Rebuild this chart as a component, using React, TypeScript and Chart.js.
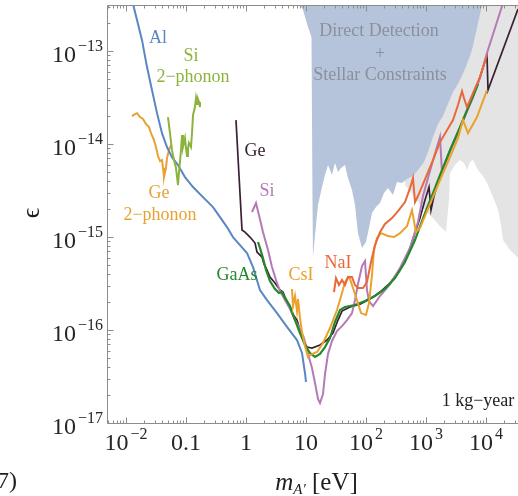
import React, { useEffect, useRef } from 'react';
import { Chart, registerables } from 'chart.js';

Chart.register(...registerables);

// ---- axis ranges ----
const X_MIN = 0.004825;
const X_MAX = 34150;
const Y_MIN = 1e-17;
const Y_MAX = 3.13e-13;

// ---- tick labels ----
const xTickValues = [0.01, 0.1, 1, 10, 100, 1000, 10000];
const xTickLabels = ['10^−2', '0.1', '1', '10', '10^2', '10^3', '10^4'];
const yTickValues = [1e-13, 1e-14, 1e-15, 1e-16, 1e-17];
const yTickLabels = ['10^−13', '10^−14', '10^−15', '10^−16', '10^−17'];

// ---- shaded regions (lower edges, filled up to the top) ----
const ddX = [7.943, 8.913, 10.8, 12.35, 12.59, 12.83, 13.08, 14.68, 15.85, 18.48, 20.73, 23.26, 27.12, 30.43, 34.15, 38.31, 44.67, 50.12, 58.43, 65.56, 73.56, 85.8, 100, 112.2, 125.9, 146.8, 171.1, 199.5, 232.6, 281.8, 328.6, 398.1, 482.3, 607, 735.6, 926, 1080, 1308, 1585, 1920, 2326, 2818, 3415, 3981, 4823, 5843, 7079, 8580];
const ddY = [3.13e-13, 2.76e-13, 1.81e-13, 1.41e-13, 1.81e-14, 2.5e-15, 6.09e-16, 1.35e-15, 2.21e-15, 3.45e-15, 4.64e-15, 5.94e-15, 4.64e-15, 6.25e-15, 5.0e-15, 5.52e-15, 5.94e-15, 4.31e-15, 3.2e-15, 2.21e-15, 1.1e-15, 7.62e-16, 8.84e-16, 1.25e-15, 1.81e-15, 2.1e-15, 2.32e-15, 2.97e-15, 3.36e-15, 2.83e-15, 3.9e-15, 3.81e-15, 4.2e-15, 4.53e-15, 5.26e-15, 6.4e-15, 8.2e-15, 1.19e-14, 1.64e-14, 2.0e-14, 2.69e-14, 3.62e-14, 4.42e-14, 5.39e-14, 7.25e-14, 1.03e-13, 1.77e-13, 3.13e-13];

const grayX = [446.7, 607, 794.3, 1039, 1308, 1711, 2154, 2416, 2512, 3043, 3687, 4299, 4823, 5412, 6070, 7356, 8913, 10391, 13080, 15850, 17780, 19200, 25120, 34150];
const grayY = [3.62e-15, 2.83e-15, 2.21e-15, 1.86e-15, 1.6e-15, 1.31e-15, 1.13e-15, 2.5e-15, 4.88e-15, 5.94e-15, 6.73e-15, 6.25e-15, 5.26e-15, 6.4e-15, 6.73e-15, 5.26e-15, 4.53e-15, 3.81e-15, 2.69e-15, 1.95e-15, 1.35e-15, 9.28e-16, 7.25e-16, 6.0e-16];

// ---- curves ----
const alX = [0.0126, 0.0153, 0.0185, 0.0224, 0.0271, 0.0329, 0.0398, 0.0482, 0.0584, 0.0736, 0.0962, 0.131, 0.192, 0.282, 0.369, 0.482, 0.607, 0.794, 1.04, 1.31, 1.71, 2.24, 3.29, 4.82, 7.08, 8.58, 9.62, 10.0];
const alY = [3.54e-13, 2.15e-13, 1.31e-13, 6.73e-14, 3.81e-14, 2.15e-14, 1.31e-14, 9.3e-15, 7.24e-15, 5.95e-15, 4.41e-15, 3.45e-15, 2.69e-15, 2.1e-15, 1.64e-15, 1.28e-15, 1.0e-15, 8.2e-16, 6.73e-16, 4.75e-16, 2.69e-16, 2.1e-16, 1.52e-16, 1.08e-16, 7.8e-17, 5.66e-17, 3.45e-17, 2.76e-17];

const ge2phX = [0.0126, 0.0141, 0.0153, 0.0171, 0.0192, 0.0216, 0.0242, 0.0261, 0.0293, 0.0316, 0.0341, 0.0369, 0.0398, 0.0414, 0.043, 0.0464, 0.0482, 0.0521, 0.0562];
const ge2phY = [2.0e-14, 2.1e-14, 2.15e-14, 1.95e-14, 1.86e-14, 1.64e-14, 1.52e-14, 1.31e-14, 1.1e-14, 9.3e-15, 7.43e-15, 6.56e-15, 6.73e-15, 5.52e-15, 4.41e-15, 5.52e-15, 7.06e-15, 8.6e-15, 9.75e-15];

const si2phX = [0.0501, 0.0541, 0.0584, 0.0631, 0.0681, 0.0736, 0.0765, 0.0826, 0.0858, 0.0891, 0.0962, 0.1, 0.104, 0.108, 0.112, 0.121, 0.126, 0.131, 0.141, 0.147, 0.153, 0.158, 0.165, 0.171];
const si2phY = [1.95e-14, 1.31e-14, 8.6e-15, 6.73e-15, 5.52e-15, 3.62e-15, 5.0e-15, 8.6e-15, 1.25e-14, 9.3e-15, 1.16e-14, 9.06e-15, 7.43e-15, 9.06e-15, 1.03e-14, 9.3e-15, 1.31e-14, 2.05e-14, 2.5e-14, 3.13e-14, 2.69e-14, 3.05e-14, 2.83e-14, 2.5e-14];

const geX = [0.681, 0.764, 0.858, 0.962, 1.166, 1.413, 1.526, 1.848, 1.995, 2.239, 2.512, 3.043, 3.687, 4.137, 4.467, 5.412, 5.843, 7.079, 7.943, 8.913, 10.39, 12.59, 17.11, 22.39, 28.18, 34.15, 39.81, 54.12, 79.43, 116.6, 171.1, 251.2, 368.7, 541.2, 794.3, 962, 1122, 1212, 1359, 1711, 2512, 3687, 4823, 6070, 7943, 10391, 10800, 34150];
const geY = [1.81e-14, 4.64e-15, 1.19e-15, 1.13e-15, 1.0e-15, 8.62e-16, 6.9e-16, 6.09e-16, 5.13e-16, 4.42e-16, 3.71e-16, 3.2e-16, 2.69e-16, 2.56e-16, 2.26e-16, 1.77e-16, 1.52e-16, 1.28e-16, 1.0e-16, 7.81e-17, 6.56e-17, 6.4e-17, 6.9e-17, 7.81e-17, 9.28e-17, 1.28e-16, 1.6e-16, 1.77e-16, 1.9e-16, 2.15e-16, 2.56e-16, 3.2e-16, 4.42e-16, 7.62e-16, 1.6e-15, 2.5e-15, 3.45e-15, 1.95e-15, 2.76e-15, 4.53e-15, 8.41e-15, 1.49e-14, 2.26e-14, 3.2e-14, 5.26e-14, 9.06e-14, 3.81e-14, 2.83e-13];

const siX = [1.259, 1.468, 1.647, 1.92, 2.326, 2.712, 3.162, 3.687, 4.467, 5.412, 6.556, 7.943, 9.261, 10.8, 12.59, 14.13, 15.85, 17.11, 19.2, 20.73, 23.26, 27.12, 32.86, 39.81, 48.23, 58.43, 65.56, 73.56, 85.8, 96.2, 103.9, 112.2, 130.8, 171.1, 251.2, 368.7, 541.2, 735.6, 891.3, 1080, 1359, 1711, 1848, 2512, 3687, 4823, 6070, 7943, 10391, 14130, 19950];
const siY = [1.86e-15, 2.32e-15, 1.72e-15, 1.13e-15, 7.25e-16, 4.76e-16, 3.45e-16, 2.63e-16, 2.1e-16, 1.68e-16, 1.28e-16, 1.03e-16, 8.2e-17, 5.52e-17, 3.9e-17, 2.69e-17, 1.81e-17, 1.64e-17, 2.05e-17, 3.36e-17, 5.52e-17, 7.62e-17, 9.76e-17, 1.1e-16, 1.28e-16, 1.52e-16, 2.1e-16, 3.12e-16, 4.88e-16, 5.52e-16, 2.69e-16, 2.05e-16, 1.81e-16, 2.32e-16, 3.12e-16, 4.64e-16, 7.62e-16, 1.45e-15, 2.76e-15, 4.31e-15, 7.25e-15, 1.19e-14, 5.0e-15, 8.41e-15, 1.49e-14, 2.26e-14, 3.2e-14, 5.13e-14, 9.52e-14, 1.77e-13, 3.54e-13];

const gaasX = [1.585, 1.711, 1.92, 2.154, 2.512, 3.043, 3.548, 3.981, 4.467, 5.412, 6.556, 7.943, 9.62, 11.66, 14.13, 17.11, 20.73, 25.12, 30.43, 36.87, 44.67, 65.56, 96.2, 141.3, 207.3, 304.3, 446.7, 655.6, 962, 1308, 1711, 2512, 3687, 4823, 6070, 7356];
const gaasY = [8.84e-16, 7.62e-16, 5.94e-16, 4.42e-16, 3.36e-16, 2.76e-16, 2.5e-16, 2.56e-16, 2.21e-16, 1.81e-16, 1.28e-16, 9.28e-17, 6.9e-17, 5.66e-17, 5.13e-17, 5.52e-17, 6.56e-17, 8.2e-17, 1.22e-16, 1.64e-16, 1.77e-16, 1.86e-16, 2.05e-16, 2.32e-16, 2.76e-16, 3.62e-16, 5.39e-16, 9.28e-16, 1.81e-15, 2.97e-15, 4.64e-15, 8.62e-15, 1.52e-14, 2.32e-14, 3.28e-14, 4.42e-14];

const csiX = [5.843, 6.07, 6.556, 7.079, 7.356, 7.943, 8.58, 9.62, 10.8, 12.59, 15.26, 19.2, 25.12, 32.86, 39.81, 44.67, 50.12, 54.12, 60.7, 70.79, 82.5, 100, 112.2, 125.9, 135.9, 152.6, 177.8, 232.6, 292.9, 368.7, 482.3, 584.3, 681, 794.3, 1166, 1711, 2512, 3415, 4137, 5012, 7079, 10391];
const csiY = [2.76e-16, 1.81e-16, 2.32e-16, 1.6e-16, 2.15e-16, 1.35e-16, 9.52e-17, 6.73e-17, 5.13e-17, 5.52e-17, 5.8e-17, 7.25e-17, 1.05e-16, 1.64e-16, 2.5e-16, 3.28e-16, 3.71e-16, 3.53e-16, 2.83e-16, 2.1e-16, 1.52e-16, 1.45e-16, 1.95e-16, 3.9e-16, 7.25e-16, 9.76e-16, 1.1e-15, 1.025e-15, 1.0e-15, 1.1e-15, 1.31e-15, 1.95e-15, 1.13e-15, 1.25e-15, 2.26e-15, 4.1e-15, 7.25e-15, 1.16e-14, 1.81e-14, 1.31e-14, 1.95e-14, 3.81e-14];

const naiX = [29.29, 31.62, 35.48, 39.81, 44.67, 50.12, 58.43, 65.56, 73.56, 89.13, 103.9, 121.2, 141.3, 171.1, 207.3, 271.2, 341.5, 446.7, 541.2, 607, 655.6, 735.6, 891.3, 1080, 1308, 1711, 2239, 2818, 3415, 3981, 4299, 4823, 6070, 7943, 10391];
const naiY = [2.56e-16, 3.62e-16, 3.05e-16, 3.45e-16, 3.05e-16, 3.71e-16, 3.71e-16, 3.05e-16, 2.83e-16, 2.83e-16, 3.28e-16, 5.39e-16, 8.2e-16, 1.13e-15, 1.38e-15, 1.6e-15, 1.9e-15, 2.38e-15, 3.36e-15, 4.31e-15, 2.38e-15, 2.76e-15, 3.71e-15, 5.0e-15, 6.73e-15, 1.05e-14, 1.41e-14, 1.81e-14, 2.63e-14, 3.71e-14, 3.12e-14, 2.5e-14, 3.53e-14, 5.26e-14, 9.06e-14];

// ---- in-plot labels (anchored in data coordinates) ----
const annotations = [
  { text: 'Al', x: 0.0341, y: 1.38e-13, color: '#5b86c4' },
  { text: 'Si', x: 0.1212, y: 8.84e-14, color: '#8cb43c' },
  { text: '2−phonon', x: 0.1308, y: 5.26e-14, color: '#8cb43c' },
  { text: 'Ge', x: 0.0355, y: 2.97e-15, color: '#e8a234' },
  { text: '2−phonon', x: 0.0369, y: 1.72e-15, color: '#e8a234' },
  { text: 'Ge', x: 1.413, y: 8.41e-15, color: '#3b2035' },
  { text: 'Si', x: 2.239, y: 3.12e-15, color: '#b57ab6' },
  { text: 'GaAs', x: 0.708, y: 3.9e-16, color: '#25882a' },
  { text: 'CsI', x: 8.25, y: 3.9e-16, color: '#eba22a' },
  { text: 'NaI', x: 34.15, y: 5.26e-16, color: '#e86a3a' },
  { text: '1 kg−year', x: 7356, y: 1.72e-17, color: '#222222' },
  { text: 'Direct Detection', x: 164.7, y: 1.64e-13, color: '#8a909c' },
  { text: '+', x: 171, y: 9.28e-14, color: '#8a909c' },
  { text: 'Stellar Constraints', x: 171, y: 5.52e-14, color: '#8a909c' },
];

const FONT = '"Liberation Serif", "Times New Roman", serif';

function drawPowerLabel(ctx: CanvasRenderingContext2D, label: string, x: number, baseY: number, align: string) {
  const [base, sup] = label.split('^');
  ctx.font = `24px ${FONT}`;
  const bw = ctx.measureText(base).width;
  let sw = 0;
  if (sup) {
    ctx.font = `16px ${FONT}`;
    sw = ctx.measureText(sup).width + 2;
  }
  const total = bw + sw;
  const left = align === 'center' ? x - total / 2 : x - total;
  ctx.textAlign = 'left';
  ctx.textBaseline = 'alphabetic';
  ctx.font = `24px ${FONT}`;
  ctx.fillText(base, left, baseY);
  if (sup) {
    ctx.font = `16px ${FONT}`;
    ctx.fillText(sup, left + bw + 2, baseY - 11);
  }
}

const framePlugin = {
  id: 'frame',
  afterDraw(chart: any) {
    const { ctx, chartArea: a } = chart;
    const xs = chart.scales.x;
    const ys = chart.scales.y;
    ctx.save();
    // frame
    const L = Math.round(a.left) + 0.5;
    const B = Math.round(a.bottom) + 0.5;
    const T = Math.round(a.top) + 0.5;
    const R = a.right;
    ctx.strokeStyle = '#8c8c8c';
    ctx.lineWidth = 1;
    ctx.beginPath();
    ctx.moveTo(R, T);
    ctx.lineTo(L, T);
    ctx.lineTo(L, B);
    ctx.lineTo(R, B);
    // x ticks (bottom & top)
    for (let e = -3; e <= 5; e++) {
      for (let m = 1; m <= 9; m++) {
        const v = m * Math.pow(10, e);
        if (v < X_MIN || v > X_MAX) continue;
        const px = Math.round(xs.getPixelForValue(v)) + 0.5;
        const len = m === 1 ? 6 : 3;
        ctx.moveTo(px, B);
        ctx.lineTo(px, B - len);
        ctx.moveTo(px, T);
        ctx.lineTo(px, T + len);
      }
    }
    // y ticks (left)
    for (let e = -18; e <= -12; e++) {
      for (let m = 1; m <= 9; m++) {
        const v = m * Math.pow(10, e);
        if (v < Y_MIN * 0.999 || v > Y_MAX) continue;
        const py = Math.round(ys.getPixelForValue(v)) + 0.5;
        const len = m === 1 ? 6 : 3;
        ctx.moveTo(L, py);
        ctx.lineTo(L + len, py);
      }
    }
    ctx.stroke();

    // tick labels
    ctx.fillStyle = '#262626';
    xTickValues.forEach((v, i) => {
      const px = xs.getPixelForValue(v);
      drawPowerLabel(ctx, xTickLabels[i], px, a.bottom + 27, 'center');
    });
    yTickValues.forEach((v, i) => {
      const py = ys.getPixelForValue(v);
      drawPowerLabel(ctx, yTickLabels[i], a.left - 4, py + 11, 'right');
    });

    // axis titles
    ctx.fillStyle = '#1e1e1e';
    ctx.textBaseline = 'alphabetic';
    ctx.textAlign = 'left';
    const cx = (a.left + a.right) / 2 + 4;
    ctx.font = `italic 25px ${FONT}`;
    const mw = ctx.measureText('m').width;
    ctx.font = `italic 15px ${FONT}`;
    const aw = ctx.measureText('A′').width;
    ctx.font = `25px ${FONT}`;
    const rw = ctx.measureText(' [eV]').width;
    let tx = cx - (mw + aw + rw) / 2;
    const ty = 490;
    ctx.font = `italic 25px ${FONT}`;
    ctx.fillText('m', tx, ty);
    tx += mw;
    ctx.font = `italic 15px ${FONT}`;
    ctx.fillText('A′', tx, ty + 4);
    tx += aw;
    ctx.font = `25px ${FONT}`;
    ctx.fillText(' [eV]', tx, ty);

    ctx.save();
    ctx.translate(32, 213);
    ctx.rotate(-Math.PI / 2);
    ctx.textAlign = 'center';
    ctx.textBaseline = 'middle';
    ctx.font = `26px ${FONT}`;
    ctx.fillText('ϵ', 0, 0);
    ctx.restore();

    // caption fragment
    ctx.font = `24px ${FONT}`;
    ctx.textAlign = 'left';
    ctx.textBaseline = 'alphabetic';
    ctx.fillText('7)', -3, 488);

    // annotations
    ctx.textAlign = 'center';
    ctx.textBaseline = 'middle';
    annotations.forEach((an) => {
      ctx.font = `18px ${FONT}`;
      ctx.fillStyle = an.color;
      ctx.fillText(an.text, xs.getPixelForValue(an.x), ys.getPixelForValue(an.y));
    });
    ctx.restore();
  },
};

const zip = (xs: number[], ys: number[]) => xs.map((x, i) => ({ x, y: ys[i] }));

function curve(label: string, xs: number[], ys: number[], color: string, width: number, order: number) {
  return {
    label,
    data: zip(xs, ys),
    borderColor: color,
    backgroundColor: color,
    borderWidth: width,
    pointRadius: 0,
    fill: false,
    tension: 0,
    order,
  };
}

export default function App() {
  const ref = useRef<HTMLCanvasElement>(null);
  useEffect(() => {
    const canvas = ref.current;
    if (!canvas) return;
    const chart = new Chart(canvas, {
      type: 'line',
      data: {
        datasets: [
          {
            label: 'Other constraints',
            data: zip(grayX, grayY),
            borderColor: 'rgba(0,0,0,0)',
            backgroundColor: '#e4e4e4',
            borderWidth: 0,
            pointRadius: 0,
            fill: 'end',
            order: 20,
          },
          {
            label: 'Direct Detection + Stellar Constraints',
            data: zip(ddX, ddY),
            borderColor: 'rgba(0,0,0,0)',
            backgroundColor: '#b6c4db',
            borderWidth: 0,
            pointRadius: 0,
            fill: 'end',
            order: 19,
          },
          curve('Ge 2-phonon', ge2phX, ge2phY, '#e8a234', 2, 9),
          curve('Al', alX, alY, '#5b86c4', 2, 8),
          curve('Si 2-phonon', si2phX, si2phY, '#8cb43c', 2, 7),
          curve('Ge', geX, geY, '#3b2035', 1.7, 6),
          curve('Si', siX, siY, '#b57ab6', 2, 5),
          curve('GaAs', gaasX, gaasY, '#25882a', 2.2, 4),
          curve('CsI', csiX, csiY, '#eba22a', 2, 3),
          curve('NaI', naiX, naiY, '#e86a3a', 2, 2),
        ] as any,
      },
      options: {
        animation: false,
        responsive: false,
        devicePixelRatio: 1,
        layout: { padding: { top: 5, left: 0, right: 0, bottom: 0 } },
        plugins: { legend: { display: false }, tooltip: { enabled: false } },
        elements: { point: { radius: 0 }, line: { tension: 0 } },
        scales: {
          x: {
            type: 'logarithmic',
            position: 'bottom',
            min: X_MIN,
            max: X_MAX,
            grid: { display: false },
            border: { display: false },
            ticks: { display: false },
            afterFit: (s: any) => {
              s.height = 73;
            },
          },
          y: {
            type: 'logarithmic',
            position: 'left',
            min: Y_MIN,
            max: Y_MAX,
            grid: { display: false },
            border: { display: false },
            ticks: { display: false },
            afterFit: (s: any) => {
              s.width = 107;
            },
          },
        },
      } as any,
      plugins: [framePlugin],
    });
    return () => chart.destroy();
  }, []);
  return (
    <div style={{ position: 'fixed', left: 0, top: 0, width: 518, height: 496, background: '#ffffff' }}>
      <canvas ref={ref} width={518} height={496} style={{ display: 'block', width: 518, height: 496 }} />
    </div>
  );
}
